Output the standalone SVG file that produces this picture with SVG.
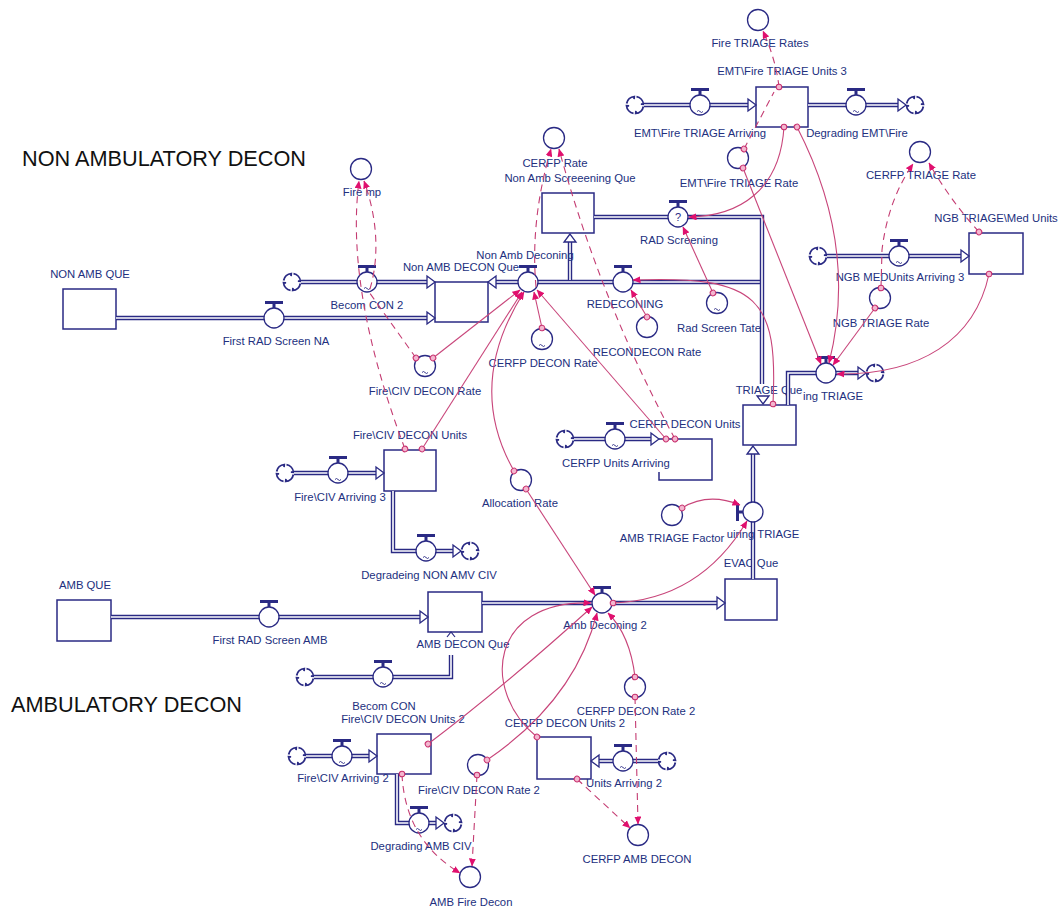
<svg xmlns="http://www.w3.org/2000/svg" xmlns:xlink="http://www.w3.org/1999/xlink" width="1062" height="909" viewBox="0 0 1062 909">
<style>
  .stk{fill:#fff;stroke:#2a2a84;stroke-width:1.5}
  .cv{fill:#fff;stroke:#2a2a84;stroke-width:1.3}
  .po{fill:none;stroke:#2a2a84;stroke-width:4.4}
  .pi{fill:none;stroke:#fff;stroke-width:1.6}
  text{font-family:"Liberation Sans",Arial,sans-serif}
  .lb{font-size:11.3px;fill:#22307e;text-anchor:middle}
  .tt{font-size:21.7px;fill:#111}
  .q{font-size:11px;fill:#2a2a84;text-anchor:middle}
  .cn{fill:none;stroke:#c8457a;stroke-width:1.1;marker-end:url(#a)}
  .cd{fill:none;stroke:#c43c72;stroke-width:1.1;stroke-dasharray:7 5;marker-end:url(#a)}
  .org{marker-start:url(#o)}
</style>
<defs>
  <marker id="a" markerUnits="userSpaceOnUse" markerWidth="8" markerHeight="7" refX="7.5" refY="3.5" orient="auto">
    <path d="M0,0 L8,3.5 L0,7 Z" fill="#e0106e"/>
  </marker>
  <marker id="o" markerUnits="userSpaceOnUse" markerWidth="8" markerHeight="8" refX="4" refY="4" orient="auto">
    <circle cx="4" cy="4" r="2.8" fill="#f3b6cf" stroke="#c8306e" stroke-width="1"/>
  </marker>
  <g id="valve">
    <circle r="10" fill="#fff" stroke="#2a2a84" stroke-width="1.3"/>
    <rect x="-1.5" y="-14" width="3" height="4" fill="#2a2a84"/>
    <rect x="-9" y="-17" width="18" height="3" fill="#2a2a84"/>
  </g>
  <!-- source/sink cloud: four arcs with curled ends -->
  <g id="cloud">
    <circle r="8.5" fill="#fff"/>
    <path d="M8.37,1.48 A8.5,8.5 0 0 1 0.74,8.47 l0.2,-2.6 M-1.48,8.37 A8.5,8.5 0 0 1 -8.47,0.74 l2.6,0.2 M-8.37,-1.48 A8.5,8.5 0 0 1 -0.74,-8.47 l-0.2,2.6 M1.48,-8.37 A8.5,8.5 0 0 1 8.47,-0.74 l-2.6,-0.2" fill="none" stroke="#2a2a84" stroke-width="1.8"/>
  </g>
  <path id="tl" d="M-3,6.5 q1.5,-2 3,0 t3,0" fill="none" stroke="#2a2a84" stroke-width="0.9"/>
  <path id="ha" d="M0,0 L-8,-6 L-8,6 Z" fill="#fff" stroke="#2a2a84" stroke-width="1.3"/>
</defs>
<rect width="1062" height="909" fill="#fff"/>

<g id="titles">
  <text class="tt" x="22" y="166">NON AMBULATORY DECON</text>
  <text class="tt" x="11" y="712">AMBULATORY DECON</text>
</g>

<!-- stocks -->
<g id="non-amb-que">
  <rect class="stk" x="63" y="289" width="53" height="40"/>
  <text class="lb" x="90" y="278">NON AMB QUE</text>
</g>
<g id="non-amb-decon-que">
  <rect class="stk" x="435" y="282" width="53" height="40"/>
  <text class="lb" x="461" y="271">Non AMB DECON Que</text>
</g>
<g id="non-amb-screening-que">
  <rect class="stk" x="542" y="193" width="52" height="40"/>
  <text class="lb" x="570" y="182">Non Amb Screeening Que</text>
</g>
<g id="triage-que">
  <rect class="stk" x="743" y="405" width="53" height="40"/>
  <text class="lb" x="769" y="394">TRIAGE Que</text>
</g>
<g id="cerfp-decon-units">
  <path class="stk" d="M659,472V480H712V439H659"/>
  <text class="lb" x="685" y="428">CERFP DECON Units</text>
</g>
<g id="fire-civ-decon-units">
  <rect class="stk" x="384" y="450" width="52" height="41"/>
  <text class="lb" x="410" y="439">Fire\CIV DECON Units</text>
</g>
<g id="evac-que">
  <rect class="stk" x="725" y="579" width="52" height="41"/>
  <text class="lb" x="751" y="567">EVAC Que</text>
</g>
<g id="amb-decon-que">
  <rect class="stk" x="428" y="592" width="54" height="40"/>
  <text class="lb" x="463" y="648">AMB DECON Que</text>
</g>
<g id="amb-que">
  <rect class="stk" x="57" y="600" width="54" height="41"/>
  <text class="lb" x="85" y="589">AMB QUE</text>
</g>
<g id="fire-civ-decon-units-2">
  <rect class="stk" x="377" y="734" width="54" height="40"/>
  <text class="lb" x="403" y="723">Fire\CIV DECON Units 2</text>
</g>
<g id="cerfp-decon-units-2">
  <rect class="stk" x="537" y="737" width="54" height="42"/>
  <text class="lb" x="565" y="727">CERFP DECON Units 2</text>
</g>
<g id="emt-fire-triage-units-3">
  <rect class="stk" x="756" y="87" width="52" height="40"/>
  <text class="lb" x="782" y="75">EMT\Fire TRIAGE  Units 3</text>
</g>
<g id="ngb-triage-med-units">
  <rect class="stk" x="969" y="233" width="54" height="41"/>
  <text class="lb" x="996" y="222">NGB TRIAGE\Med Units</text>
</g>

<!-- flows -->
<g id="first-rad-screen-na">
  <path class="po" d="M116,318H428"/><path class="pi" d="M116,318H428"/>
  <use href="#ha" transform="translate(435,318)"/>
  <use href="#valve" x="274" y="318"/>
  <text class="lb" x="276" y="345">First RAD Screen NA</text>
</g>
<g id="becom-con-2">
  <use href="#cloud" x="292" y="282"/>
  <path class="po" d="M301,282H428"/><path class="pi" d="M301,282H428"/>
  <use href="#ha" transform="translate(435,282)"/>
  <use href="#valve" x="367" y="282"/><use href="#tl" x="367" y="282"/>
  <text class="lb" x="367" y="309">Becom CON 2</text>
</g>
<g id="non-amb-deconing">
  <path class="po" d="M762,282H495M570,281V241"/><path class="pi" d="M762,282H495M570,280V241"/>
  <use href="#ha" transform="translate(488,282) rotate(180)"/>
  <use href="#ha" transform="translate(570,234) rotate(-90)"/>
  <use href="#valve" x="528" y="282"/>
  <text class="lb" x="525" y="259">Non Amb Deconing</text>
</g>
<g id="rad-screening">
  <path class="po" d="M594,217H762V384"/><path class="pi" d="M594,217H762V384"/>
  <use href="#ha" transform="translate(763,404) rotate(90)"/>
  <use href="#valve" x="678" y="217"/>
  <text class="q" x="678" y="221">?</text>
  <text class="lb" x="679" y="244">RAD Screening</text>
</g>
<g id="redeconing">
  <use href="#valve" x="623" y="282"/>
  <text class="lb" x="625" y="308">REDECONING</text>
</g>
<g id="ing-triage">
  <path class="po" d="M788,405V373H858"/><path class="pi" d="M788,405V373H858"/>
  <use href="#ha" transform="translate(866,373)"/>
  <use href="#cloud" x="875" y="373"/>
  <use href="#valve" x="826" y="373"/>
  <text class="lb" x="833" y="400">ing TRIAGE</text>
</g>
<g id="uiring-triage">
  <path class="po" d="M753,579V453"/><path class="pi" d="M753,579V453"/>
  <use href="#ha" transform="translate(753,446) rotate(-90)"/>
  <use href="#valve" transform="translate(753,512) rotate(-90)"/>
  <text class="lb" x="763" y="538">uiring TRIAGE</text>
</g>
<g id="amb-deconing-2">
  <path class="po" d="M482,603H718"/><path class="pi" d="M482,603H718"/>
  <use href="#ha" transform="translate(725,603)"/>
  <use href="#valve" x="602" y="603"/>
  <text class="lb" x="605" y="629">Amb Deconing 2</text>
</g>
<g id="first-rad-screen-amb">
  <path class="po" d="M111,617H421"/><path class="pi" d="M111,617H421"/>
  <use href="#ha" transform="translate(428,617)"/>
  <use href="#valve" x="269" y="617"/>
  <text class="lb" x="270" y="644">First RAD Screen AMB</text>
</g>
<g id="becom-con">
  <use href="#cloud" x="305" y="677"/>
  <path class="po" d="M314,677H451V655"/><path class="pi" d="M314,677H451V655"/>
  <path d="M447,637L451,632L455,637" fill="none" stroke="#2a2a84" stroke-width="1.2"/>
  <use href="#valve" x="383" y="677"/><use href="#tl" x="383" y="677"/>
  <text class="lb" x="384" y="710">Becom CON</text>
</g>
<g id="fire-civ-arriving-2">
  <use href="#cloud" x="297" y="756"/>
  <path class="po" d="M306,756H370"/><path class="pi" d="M306,756H370"/>
  <use href="#ha" transform="translate(377,756)"/>
  <use href="#valve" x="342" y="756"/><use href="#tl" x="342" y="756"/>
  <text class="lb" x="343" y="782">Fire\CIV Arriving 2</text>
</g>
<g id="degrading-amb-civ">
  <path class="po" d="M397,774V823H437"/><path class="pi" d="M397,774V823H437"/>
  <use href="#ha" transform="translate(444,823)"/>
  <use href="#valve" x="419" y="823"/><use href="#tl" x="419" y="823"/>
  <use href="#cloud" x="453" y="823"/>
  <text class="lb" x="421" y="850">Degrading AMB CIV</text>
</g>
<g id="units-arriving-2">
  <use href="#cloud" x="667" y="761"/>
  <path class="po" d="M658,761H598"/><path class="pi" d="M658,761H598"/>
  <use href="#ha" transform="translate(591,761) rotate(180)"/>
  <use href="#valve" x="623" y="761"/><use href="#tl" x="623" y="761"/>
  <text class="lb" x="624" y="787">Units Arriving 2</text>
</g>
<g id="fire-civ-arriving-3">
  <use href="#cloud" x="285" y="473"/>
  <path class="po" d="M294,473H377"/><path class="pi" d="M294,473H377"/>
  <use href="#ha" transform="translate(384,473)"/>
  <use href="#valve" x="338" y="473"/><use href="#tl" x="338" y="473"/>
  <text class="lb" x="340" y="501">Fire\CIV Arriving 3</text>
</g>
<g id="degradeing-non-amv-civ">
  <path class="po" d="M393,491V551H454"/><path class="pi" d="M393,491V551H454"/>
  <use href="#ha" transform="translate(461,551)"/>
  <use href="#valve" x="426" y="551"/><use href="#tl" x="426" y="551"/>
  <use href="#cloud" x="470" y="551"/>
  <text class="lb" x="429" y="579">Degradeing NON AMV CIV</text>
</g>
<g id="cerfp-units-arriving">
  <use href="#cloud" x="565" y="439"/>
  <path class="po" d="M574,439H652"/><path class="pi" d="M574,439H652"/>
  <use href="#ha" transform="translate(659,439)"/>
  <use href="#valve" x="615" y="439"/><use href="#tl" x="615" y="439"/>
  <text class="lb" x="616" y="467">CERFP Units Arriving</text>
</g>
<g id="emt-fire-triage-arriving">
  <use href="#cloud" x="635" y="105"/>
  <path class="po" d="M644,105H749"/><path class="pi" d="M644,105H749"/>
  <use href="#ha" transform="translate(756,105)"/>
  <use href="#valve" x="700" y="105"/><use href="#tl" x="700" y="105"/>
  <text class="lb" x="700" y="137">EMT\Fire TRIAGE Arriving</text>
</g>
<g id="degrading-emt-fire">
  <path class="po" d="M808,105H899"/><path class="pi" d="M808,105H899"/>
  <use href="#ha" transform="translate(906,105)"/>
  <use href="#valve" x="856" y="105"/><use href="#tl" x="856" y="105"/>
  <use href="#cloud" x="915" y="105"/>
  <text class="lb" x="857" y="137">Degrading EMT\Fire</text>
</g>
<g id="ngb-medunits-arriving-3">
  <use href="#cloud" x="818" y="256"/>
  <path class="po" d="M827,256H962"/><path class="pi" d="M827,256H962"/>
  <use href="#ha" transform="translate(969,256)"/>
  <use href="#valve" x="899" y="256"/><use href="#tl" x="899" y="256"/>
  <text class="lb" x="900" y="281">NGB MEDUnits Arriving 3</text>
</g>

<!-- converters -->
<g id="fire-mp"><circle class="cv" cx="361" cy="169" r="10.5"/><text class="lb" x="362" y="196">Fire mp</text></g>
<g id="cerfp-rate"><circle class="cv" cx="554" cy="138" r="10.5"/><text class="lb" x="555" y="167">CERFP Rate</text></g>
<g id="cerfp-decon-rate"><circle class="cv" cx="542" cy="339" r="10.5"/><use href="#tl" x="542" y="339"/><text class="lb" x="543" y="367">CERFP DECON Rate</text></g>
<g id="recondecon-rate"><circle class="cv" cx="647" cy="327" r="10.5"/><text class="lb" x="647" y="356">RECONDECON Rate</text></g>
<g id="rad-screen-tate"><circle class="cv" cx="717" cy="303" r="10.5"/><use href="#tl" x="717" y="303"/><text class="lb" x="719" y="332">Rad Screen Tate</text></g>
<g id="fire-civ-decon-rate"><circle class="cv" cx="425" cy="366" r="10.5"/><use href="#tl" x="425" y="366"/><text class="lb" x="425" y="395">Fire\CIV DECON Rate</text></g>
<g id="allocation-rate"><circle class="cv" cx="521" cy="480" r="10.5"/><text class="lb" x="520" y="507">Allocation Rate</text></g>
<g id="amb-triage-factor"><circle class="cv" cx="672" cy="515" r="10.5"/><text class="lb" x="672" y="542">AMB TRIAGE Factor</text></g>
<g id="fire-civ-decon-rate-2"><circle class="cv" cx="478" cy="765" r="10.5"/><text class="lb" x="479" y="794">Fire\CIV DECON Rate 2</text></g>
<g id="amb-fire-decon"><circle class="cv" cx="470" cy="877" r="10.5"/><text class="lb" x="471" y="906">AMB Fire Decon</text></g>
<g id="cerfp-decon-rate-2"><circle class="cv" cx="635" cy="687" r="10.5"/><text class="lb" x="636" y="715">CERFP DECON Rate 2</text></g>
<g id="cerfp-amb-decon"><circle class="cv" cx="638" cy="835" r="10.5"/><text class="lb" x="637" y="863">CERFP AMB DECON</text></g>
<g id="fire-triage-rates"><circle class="cv" cx="758" cy="20" r="10.5"/><text class="lb" x="760" y="47">Fire TRIAGE Rates</text></g>
<g id="emt-fire-triage-rate"><circle class="cv" cx="738" cy="158" r="10.5"/><text class="lb" x="739" y="187">EMT\Fire TRIAGE Rate</text></g>
<g id="cerfp-triage-rate"><circle class="cv" cx="920" cy="152" r="10.5"/><text class="lb" x="921" y="179">CERFP TRIAGE Rate</text></g>
<g id="ngb-triage-rate"><circle class="cv" cx="880" cy="298" r="10.5"/><text class="lb" x="881" y="327">NGB TRIAGE Rate</text></g>

<!-- information links -->
<g id="connectors">
  <path class="cd org" d="M405,449 Q345,290 359,181"/>
  <path class="cd org" d="M416,358 L369,292 C378,265 380,225 364,181"/>
  <path class="cn org" d="M433,358 L520,290"/>
  <path class="cn org" d="M422,449 L522,292"/>
  <path class="cn org" d="M514,471 Q465,385 524,292"/>
  <path class="cn org" d="M542,328 L534,292"/>
  <path class="cn org" d="M666,439 L537,290"/>
  <path class="cd org" d="M675,439 Q600,300 559,149"/>
  <path class="cd" d="M536,287 Q530,220 551,149"/>
  <path class="cn org" d="M526,489 L595,595"/>
  <path class="cn org" d="M647,317 L631,290"/>
  <path class="cn org" d="M713,293 L683,227"/>
  <path class="cn org" d="M773,404 C778,300 760,275 633,280"/>
  <path class="cn org" d="M784,127 C780,190 740,216 689,217"/>
  <path class="cn org" d="M743,168 L821,364"/>
  <path class="cn org" d="M797,127 C845,220 845,300 829,363"/>
  <path class="cn org" d="M875,308 L833,365"/>
  <path class="cn org" d="M989,274 C975,340 920,375 837,374"/>
  <path class="cd org" d="M779,87 Q776,60 763,31"/>
  <path class="cd org" d="M744,149 L774,92" style="marker-end:none"/>
  <path class="cd org" d="M881,288 L882,250 Q888,200 913,164"/>
  <path class="cd org" d="M979,232 Q950,200 929,163"/>
  <path class="cn org" d="M682,508 Q708,492 740,505"/>
  <path class="cn org" d="M613,603 Q700,600 747,521"/>
  <path class="cn org" d="M428,744 Q500,690 592,607"/>
  <path class="cn org" d="M487,760 Q575,700 597,613"/>
  <path class="cn org" d="M537,737 C480,690 490,600 591,603"/>
  <path class="cn org" d="M635,677 Q630,635 608,613"/>
  <path class="cd org" d="M635,697 L638,824"/>
  <path class="cd org" d="M577,779 L630,828"/>
  <path class="cd org" d="M477,775 L472,866"/>
  <path class="cd org" d="M402,774 Q405,840 460,873"/>
</g>
</svg>
